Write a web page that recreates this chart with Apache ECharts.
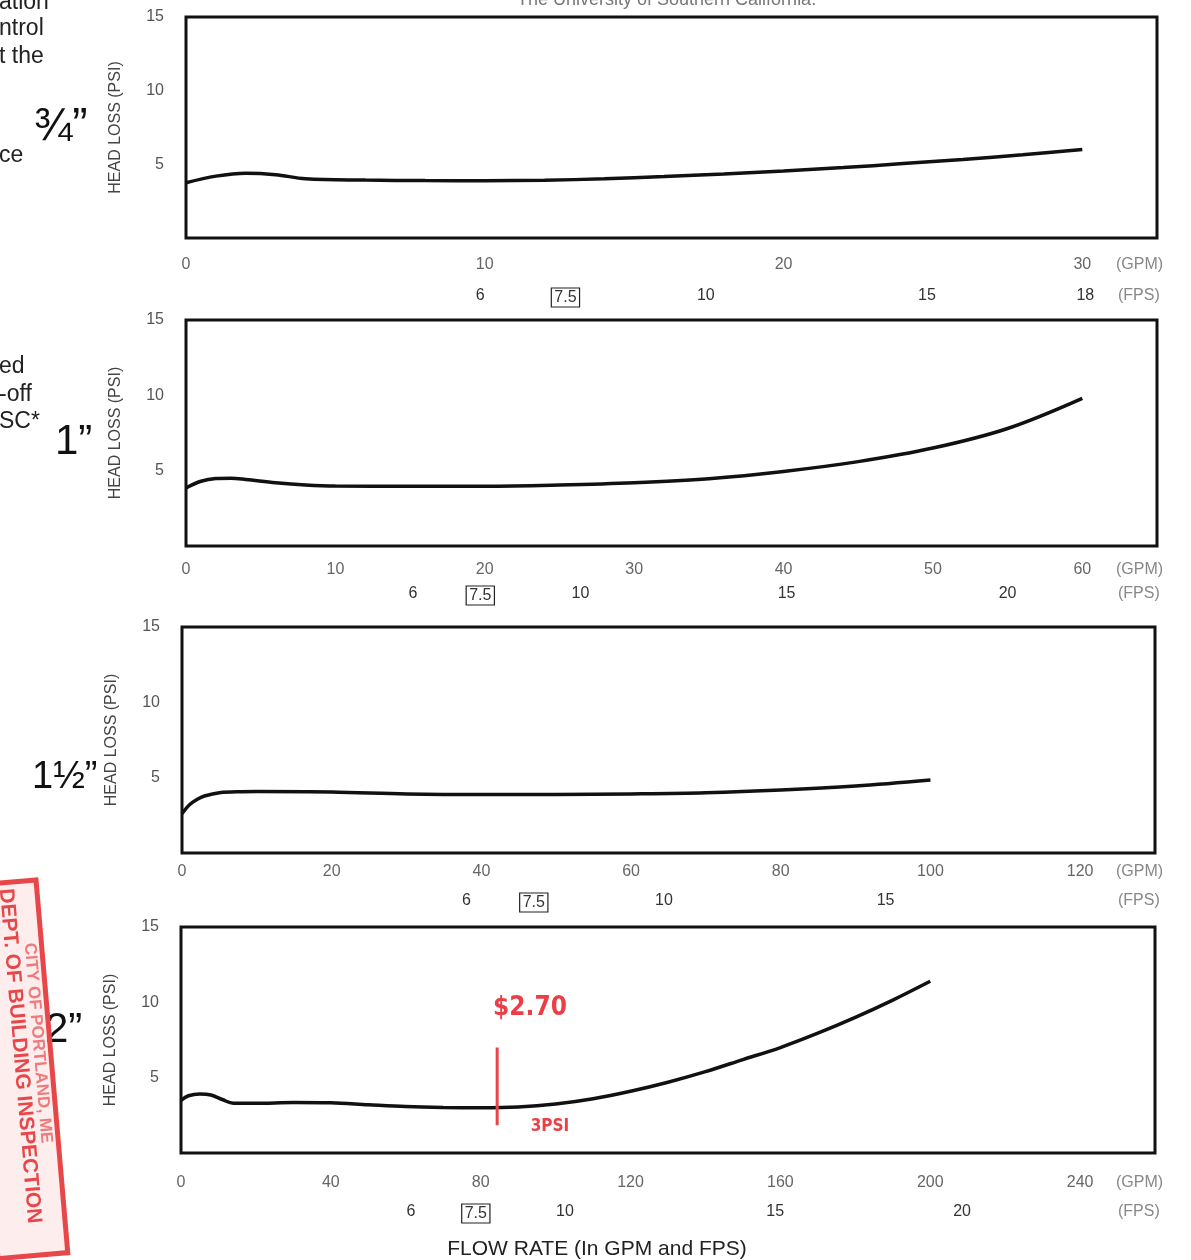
<!DOCTYPE html>
<html><head><meta charset="utf-8">
<script src="https://cdn.jsdelivr.net/npm/echarts@6/dist/echarts.min.js"></script>
<style>html,body{margin:0;padding:0;background:#fff}#c{width:1191px;height:1260px}</style>
</head><body><div id="c"></div>
<script>
// ---- data ----
const pipeLabels = ['¾”', '1”', '1½”', '2”'];
const gpmMax = [32.5, 65, 130, 260];
const gpmTicks = [[0,10,20,30],[0,10,20,30,40,50,60],[0,20,40,60,80,100,120],[0,40,80,120,160,200,240]];
const fpsLabels = [['6','7.5','10','15','18'],['6','7.5','10','15','20'],['6','7.5','10','15'],['6','7.5','10','15','20']];
const fpsAtGpm = [[9.85,12.7,17.4,24.8,30.1],[15.2,19.7,26.4,40.2,55.0],[38,47,64.4,94],[61.4,78.7,102.5,158.6,208.5]];
const boxedFps = '7.5';
const psiTicks = [5,10,15];

const gpm34 = [0,1,2,3,4,6,8,10,12,14,16,18,20,22,24,26,28,30];
const psi34 = [3.75,4.2,4.4,4.3,4.02,3.93,3.9,3.89,3.92,4.02,4.17,4.35,4.55,4.78,5.05,5.33,5.65,6.0];
const gpm1 = [0,1,2,3,4,6,8,10,15,20,25,30,35,40,45,50,55,60];
const psi1 = [3.85,4.3,4.48,4.5,4.42,4.2,4.05,3.98,3.97,3.97,4.05,4.2,4.47,4.95,5.6,6.5,7.8,9.8];
const gpm15 = [0,1,2,3,5,8,10,20,30,40,50,60,70,80,90,100];
const psi15 = [2.6,3.2,3.55,3.78,4.0,4.07,4.08,4.05,3.92,3.88,3.88,3.92,4.0,4.18,4.45,4.85];
const gpm2 = [0,2,5,8,11,14,20,30,40,50,60,70,80,90,100,110,120,130,140,150,160,170,180,190,200];
const psi2 = [3.5,3.8,3.92,3.85,3.55,3.3,3.3,3.35,3.33,3.2,3.08,3.02,3.0,3.05,3.25,3.6,4.1,4.7,5.4,6.2,7.0,7.95,9.0,10.15,11.4];

const annotGpm = 84.4;
const annotPsi = [7.0, 1.85];
const annotTexts = ['$2.70', '3PSI'];

// ---- build ----
const curves = [[gpm34,psi34],[gpm1,psi1],[gpm15,psi15],[gpm2,psi2]];
const FONT = 'Liberation Sans';
const grids = [
  {left:186, top:17, width:971, height:221},
  {left:186, top:320, width:971, height:226},
  {left:182, top:627, width:973, height:226},
  {left:181, top:927, width:974, height:226}
];
const gpmMargin = [19, 16, 11, 22];
const fpsMargin = [50, 40, 40, 51];

const xAxes = [], yAxes = [], series = [];
for (let i = 0; i < 4; i++) {
  xAxes.push({
    gridIndex:i, type:'value', min:0, max:gpmMax[i],
    axisLine:{show:false}, axisTick:{show:false}, splitLine:{show:false},
    axisLabel:{customValues:gpmTicks[i], margin:gpmMargin[i], color:'#666', fontSize:16, fontFamily:FONT}
  });
  yAxes.push({
    gridIndex:i, type:'value', min:0, max:15, interval:5,
    name:'HEAD LOSS (PSI)', nameLocation:'middle', nameGap:62,
    nameTextStyle:{color:'#444', fontSize:16, fontFamily:FONT},
    axisLine:{show:false}, axisTick:{show:false}, splitLine:{show:false},
    axisLabel:{customValues:psiTicks, margin:22, color:'#555', fontSize:16, fontFamily:FONT}
  });
  series.push({
    type:'line', xAxisIndex:i, yAxisIndex:i, smooth:0.35, showSymbol:false, silent:true,
    lineStyle:{color:'#111', width:3.5},
    data: curves[i][0].map((g,k)=>[g, curves[i][1][k]])
  });
}
for (let i = 0; i < 4; i++) {
  const pos = fpsAtGpm[i], labs = fpsLabels[i];
  xAxes.push({
    gridIndex:i, type:'value', min:0, max:gpmMax[i], position:'bottom',
    axisLine:{show:false}, axisTick:{show:false}, splitLine:{show:false},
    axisLabel:{
      customValues:pos, margin:fpsMargin[i], color:'#333', fontSize:16, fontFamily:FONT,
      formatter:function(v){
        const k = pos.findIndex(p=>Math.abs(p-v)<1e-6);
        if (k < 0) return '';
        return labs[k] === boxedFps ? '{box|'+labs[k]+'}' : labs[k];
      },
      rich:{box:{borderColor:'#222', borderWidth:1.2, padding:[2,3,1,3], fontSize:16, color:'#333', fontFamily:FONT}}
    }
  });
}
// red annotation line on the 2" chart
series.push({
  type:'line', xAxisIndex:3, yAxisIndex:3, showSymbol:false, silent:true,
  lineStyle:{color:'#e8444a', width:3},
  data:[[annotGpm, annotPsi[0]],[annotGpm, annotPsi[1]]]
});

const unitRows = [[265,296],[570,594],[872,901],[1183,1212]];
const pipeY = [127, 442, 778, 1030];
const pipeX = [34, 55, 32, 45];
const pipeSize = [46, 42, 38, 42];
const graphic = [];
unitRows.forEach(r=>{
  graphic.push({type:'text', x:1116, y:r[0], style:{text:'(GPM)', fill:'#888', font:'16px '+FONT, verticalAlign:'middle'}});
  graphic.push({type:'text', x:1118, y:r[1], style:{text:'(FPS)', fill:'#888', font:'16px '+FONT, verticalAlign:'middle'}});
});
pipeLabels.forEach((t,i)=>{
  graphic.push({type:'text', x:pipeX[i], y:pipeY[i], style:{text:t, fill:'#111', font:pipeSize[i]+'px '+FONT, verticalAlign:'middle'}});
});
// cut-off body text at the left margin of the scanned page
const leftText = [['ation',3],['ntrol',29],['t the',57],['ce',156],['ed',367],['-off',395],['SC*',422]];
leftText.forEach(t=>{
  graphic.push({type:'text', x:-1, y:t[1], style:{text:t[0], fill:'#222', font:'23px '+FONT, verticalAlign:'middle'}});
});
graphic.push({type:'text', x:517, y:0, style:{text:'The University of Southern California.', fill:'#777', font:'18px '+FONT, verticalAlign:'middle'}});
graphic.push({type:'text', x:597, y:1249, style:{text:'FLOW RATE (In GPM and FPS)', fill:'#222', font:'21px '+FONT, align:'center', verticalAlign:'middle'}});
graphic.push({type:'text', x:530, y:1008, style:{text:annotTexts[0], fill:'#ec3f45', font:'bold 26px DejaVu Sans Condensed, DejaVu Sans', align:'center', verticalAlign:'middle'}});
graphic.push({type:'text', x:550, y:1127, style:{text:annotTexts[1], fill:'#ec3f45', font:'bold 17px DejaVu Sans Condensed, DejaVu Sans', align:'center', verticalAlign:'middle'}});
// stamp
graphic.push({
  type:'group', x:36, y:880, rotation:-Math.PI/2 + 0.085,
  children:[
    {type:'rect', shape:{x:0, y:0, width:374, height:70}, style:{fill:'rgba(240,110,110,0.12)', stroke:'#e8474a', lineWidth:5}},
    {type:'text', x:6, y:31, style:{text:'DEPT. OF BUILDING INSPECTION', fill:'#e8474a', font:'bold 21px '+FONT, verticalAlign:'middle'}},
    {type:'text', x:62, y:12, style:{text:'CITY OF PORTLAND, ME', fill:'rgba(232,71,74,0.7)', font:'bold 17px '+FONT, verticalAlign:'middle'}}
  ]
});

const chart = echarts.init(document.getElementById('c'), null, {renderer:'canvas'});
chart.setOption({
  animation:false,
  backgroundColor:'#fff',
  grid: grids.map(g=>Object.assign({show:true, borderColor:'#111', borderWidth:3, backgroundColor:'transparent'}, g)),
  xAxis:xAxes, yAxis:yAxes, series:series, graphic:graphic
});
</script></body></html>
